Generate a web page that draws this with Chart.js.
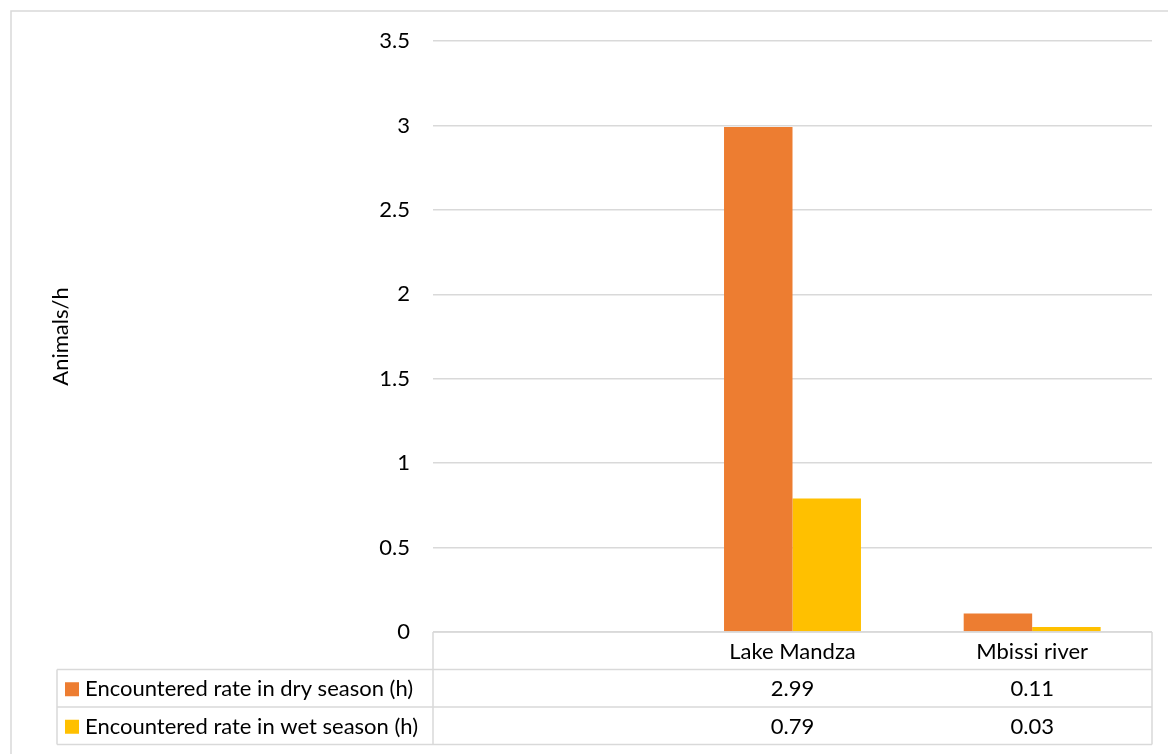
<!DOCTYPE html>
<html>
<head>
<meta charset="utf-8">
<script src="https://cdn.jsdelivr.net/npm/chart.js@4.4.0/dist/chart.umd.min.js"></script>
<style>
  body { margin: 0; background: #fff; }
  #wrap { width: 1168px; height: 754px; position: relative; }
</style>
</head>
<body>
<div id="wrap"><canvas id="myChart"></canvas></div>
<script>
// categories (first one is left blank in the original sheet)
const categories = ["", "Lake Mandza", "Mbissi river"];
const seriesNames = ["Encountered rate in dry season (h)", "Encountered rate in wet season (h)"];
const dryRates = [null, 2.99, 0.11];
const wetRates = [null, 0.79, 0.03];
const seriesColors = ["#ED7D31", "#FFC000"];

const FONT = "Lato";
const FSIZE = 22;
const LINE = "#d9d9d9";
const TXT = "#000";

// frame + data table under the plot (drawn from the x scale)
const dataTable = {
  id: "dataTable",
  beforeDraw(chart) {
    const c = chart.ctx;
    c.save();
    c.strokeStyle = LINE;
    c.lineWidth = 1.5;
    c.strokeRect(11, 11, 1300, 900);
    c.restore();
  },
  afterDraw(chart) {
    const c = chart.ctx;
    const x = chart.scales.x;
    const area = chart.chartArea;
    const rowH = 37.5;
    const top = area.bottom;
    const tblLeft = 57;
    c.save();
    c.strokeStyle = LINE;
    c.lineWidth = 1.5;
    c.beginPath();
    c.moveTo(area.left, top); c.lineTo(area.right, top);
    for (let r = 1; r <= 3; r++) {
      c.moveTo(tblLeft, top + rowH * r); c.lineTo(area.right, top + rowH * r);
    }
    c.moveTo(tblLeft, top + rowH); c.lineTo(tblLeft, top + rowH * 3);
    c.moveTo(area.left, top); c.lineTo(area.left, top + rowH * 3);
    c.moveTo(area.right, top); c.lineTo(area.right, top + rowH * 3);
    c.stroke();

    c.font = FSIZE + "px " + FONT;
    c.fillStyle = TXT;
    c.textBaseline = "middle";
    c.textAlign = "center";
    categories.forEach((cat, i) => {
      c.fillText(cat, x.getPixelForValue(i), top + rowH / 2 + 1);
    });
    const rows = [dryRates, wetRates];
    rows.forEach((vals, r) => {
      const cy = top + rowH * (r + 1) + rowH / 2 + 1;
      c.fillStyle = seriesColors[r];
      c.fillRect(65, cy - 7, 14, 14);
      c.fillStyle = TXT;
      c.textAlign = "left";
      c.fillText(seriesNames[r], 85, cy);
      c.textAlign = "center";
      vals.forEach((v, i) => {
        if (v !== null) c.fillText(v.toFixed(2), x.getPixelForValue(i), cy);
      });
    });
    c.restore();
  }
};

const ctx = document.getElementById("myChart").getContext("2d");
new Chart(ctx, {
  type: "bar",
  data: {
    labels: categories,
    datasets: [
      {
        label: seriesNames[0],
        data: dryRates,
        backgroundColor: seriesColors[0],
        categoryPercentage: 2 / 3.5,
        barPercentage: 1,
      },
      {
        label: seriesNames[1],
        data: wetRates,
        backgroundColor: seriesColors[1],
        categoryPercentage: 2 / 3.5,
        barPercentage: 1,
      },
    ],
  },
  options: {
    responsive: true,
    maintainAspectRatio: false,
    animation: false,
    layout: {
      padding: { left: 44, top: 41, right: 16, bottom: 122 },
    },
    plugins: {
      legend: { display: false },
      tooltip: { enabled: false },
    },
    scales: {
      x: {
        display: false,
      },
      y: {
        min: 0,
        max: 3.5,
        afterFit: (s) => { s.width = 433 - 44; },
        border: { display: false },
        grid: { color: LINE, lineWidth: 1.5, drawTicks: false },
        ticks: {
          stepSize: 0.5,
          padding: 23,
          color: TXT,
          font: { family: FONT, size: FSIZE },
          callback: (v) => String(Number(v.toFixed(2))),
        },
        title: {
          display: true,
          text: "Animals/h",
          color: TXT,
          font: { family: FONT, size: FSIZE },
        },
      },
    },
  },
  plugins: [dataTable],
});
</script>
</body>
</html>
